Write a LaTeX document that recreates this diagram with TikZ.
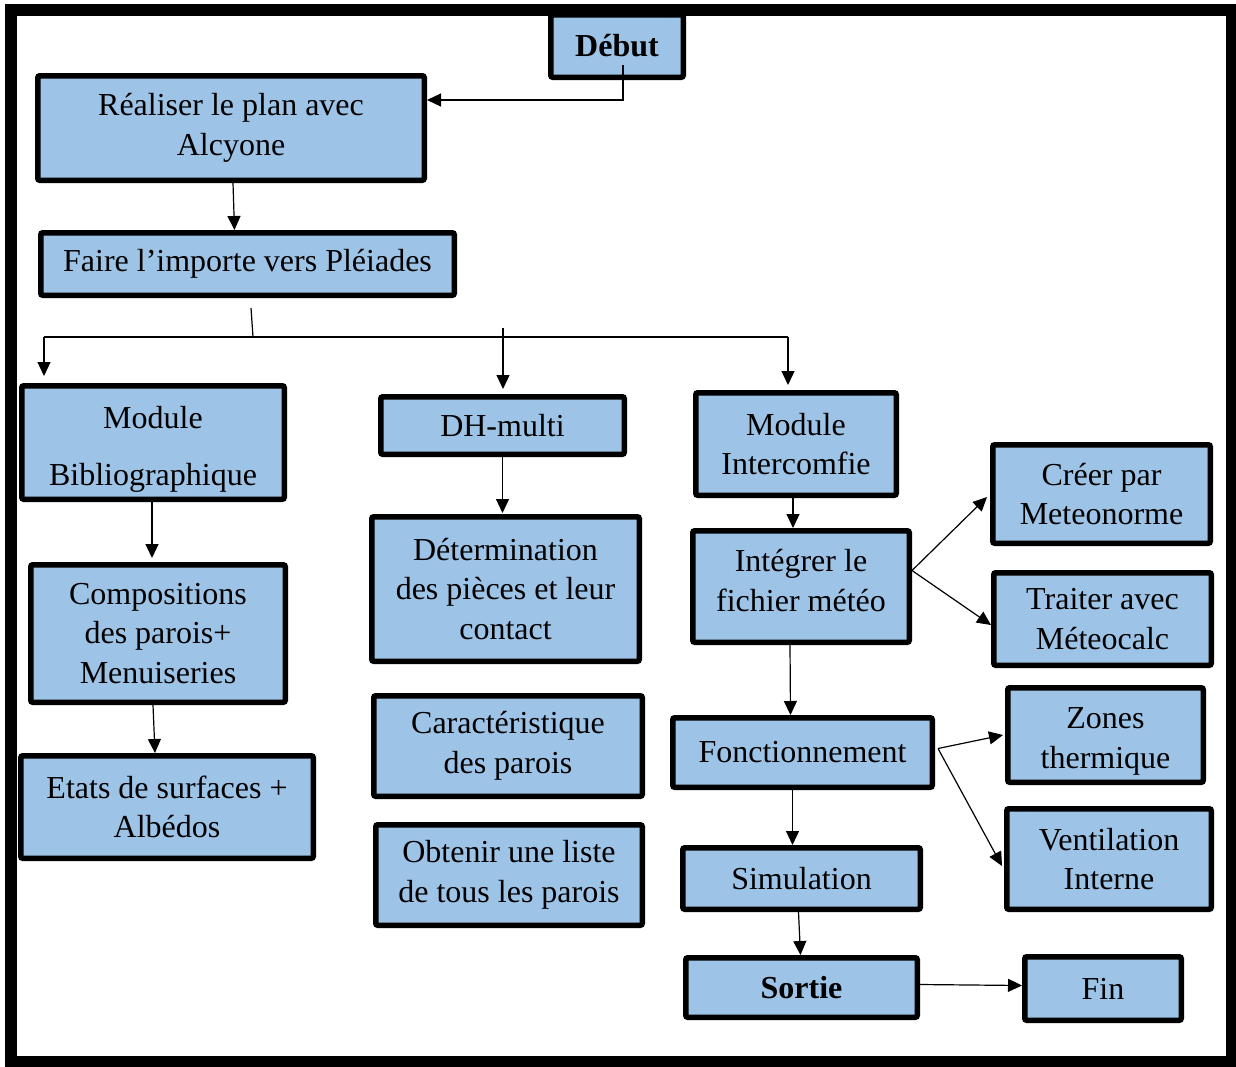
\documentclass[tikz,border=0pt]{standalone}
\usepackage{fontspec}
\setmainfont{Liberation Serif}
\usetikzlibrary{arrows.meta,calc}
\definecolor{boxblue}{HTML}{9DC3E6}
\tikzset{
  box/.style={draw=black, line width=5.5pt, fill=boxblue, rounded corners=2pt, align=center, inner sep=0pt,
    font=\fontsize{32}{39.5}\selectfont},
  arr/.style={line width=1.2pt, -{Triangle[length=14pt,width=13pt]}},
  ln/.style={line width=1.2pt}
}
\begin{document}
\begin{tikzpicture}[x=1pt,y=-1pt]
\useasboundingbox (0,0) rectangle (1236,1066);
\fill[white] (0,0) rectangle (1236,1066);
\draw[line width=12pt] (10.5,10) rectangle (1232,1062);

\node[box, minimum width=132.5pt, minimum height=62.5pt, font=\fontsize{32}{39.5}\selectfont\bfseries] (debut) at (617,46) {Début};
\node[box, minimum width=386.5pt, minimum height=104.5pt] (realiser) at (231,128) {Réaliser le plan avec\\Alcyone};
\node[box, minimum width=413.5pt, minimum height=62.5pt] (faire) at (247.5,264) {Faire l’importe vers Pléiades};
\node[box, minimum width=262.5pt, minimum height=113.5pt] (modbib) at (153,442.5) {\rule{0pt}{36pt}Module\\[17pt]Bibliographique};
\node[box, minimum width=243.5pt, minimum height=57.5pt] (dh) at (502.5,425.5) {DH-multi};
\node[box, minimum width=200.5pt, minimum height=102.5pt] (inter) at (796,444) {Module\\Intercomfie};
\node[box, minimum width=267.5pt, minimum height=144.5pt] (det) at (505.5,589) {Détermination\\des pièces et leur\\contact};
\node[box, minimum width=254.5pt, minimum height=137.5pt] (comp) at (158,633.5) {Compositions\\des parois+\\Menuiseries};
\node[box, minimum width=216.5pt, minimum height=111.5pt] (integ) at (801,586.5) {Intégrer le\\fichier météo\rule[-12pt]{0pt}{1pt}};
\node[box, minimum width=217.5pt, minimum height=98.5pt] (creer) at (1101.5,494) {Créer par\\Meteonorme};
\node[box, minimum width=217.5pt, minimum height=92.5pt] (traiter) at (1102.5,619) {Traiter avec\\Méteocalc};
\node[box, minimum width=268.5pt, minimum height=100.5pt] (carac) at (508,746) {Caractéristique\\des parois};
\node[box, minimum width=259.5pt, minimum height=69.5pt] (fonct) at (802.5,752.5) {Fonctionnement};
\node[box, minimum width=195.5pt, minimum height=94.5pt] (zones) at (1105.5,735) {\rule{0pt}{34pt}Zones\\thermique};
\node[box, minimum width=292.5pt, minimum height=102.5pt] (etats) at (167,807) {Etats de surfaces +\\Albédos};
\node[box, minimum width=266.5pt, minimum height=100.5pt] (obtenir) at (509,875) {Obtenir une liste\\de tous les parois};
\node[box, minimum width=237.5pt, minimum height=61.5pt] (simul) at (801.5,878.5) {Simulation};
\node[box, minimum width=204.5pt, minimum height=100.5pt] (vent) at (1109,859) {Ventilation\\Interne};
\node[box, minimum width=231.5pt, minimum height=59.5pt, font=\fontsize{32}{39.5}\selectfont\bfseries] (sortie) at (801.5,987.5) {Sortie};
\node[box, minimum width=156.5pt, minimum height=63.5pt] (fin) at (1103,988.5) {Fin};

% Début -> Réaliser
\draw[arr] ([xshift=6pt,yshift=15pt]debut.south) |- ([yshift=28pt]realiser.east);
% Réaliser -> Faire
\draw[arr] ([xshift=2pt]realiser.south) -- ([xshift=-13pt]faire.north);
% branching
\coordinate (bj) at (253,337);
\coordinate (bl) at (44,337);
\coordinate (br) at (788,337);
\coordinate (bm) at (503,328);
\draw[ln] ([xshift=3.5pt,yshift=-10pt]faire.south) -- (bj);
\draw[ln] (bl) -- (br);
\draw[arr] (bl) -- ($(bl |- modbib.north)+(0,-7)$);
\draw[arr] (bm) -- ($(bm |- dh.north)+(0,-5)$);
\draw[arr] (br) -- ($(br |- inter.north)+(0,-5)$);
% left column
\draw[arr] ([xshift=-1pt]modbib.south) -- ([xshift=-6pt,yshift=4pt]comp.north);
\draw[arr] ([xshift=-5pt]comp.south) -- ([xshift=-12pt]etats.north);
% middle
\draw[arr] (dh.south) -- ($(dh.south |- det.north)+(0,-1)$);
% right
\draw[arr] ([xshift=-3pt]inter.south) -- ([xshift=-8pt]integ.north);
\draw[arr] ([yshift=16pt]integ.east) -- ([xshift=-3pt,yshift=-3pt]creer.west);
\draw[arr] ([yshift=16pt]integ.east) -- ([yshift=-6pt]traiter.west);
\draw[arr] ([xshift=-11pt]integ.south) -- ([xshift=-12pt]fonct.north);
\draw[arr] ([xshift=3pt,yshift=4pt]fonct.east) -- ([xshift=-2pt]zones.west);
\draw[arr] ([xshift=3pt,yshift=4pt]fonct.east) -- ([xshift=-2pt,yshift=-7pt]vent.west);
\draw[arr] ([xshift=-10pt]fonct.south) -- ([xshift=-9pt]simul.north);
\draw[arr] ([xshift=-3pt]simul.south) -- ([xshift=-1pt]sortie.north);
\draw[arr] ([yshift=3pt]sortie.east) -- ([yshift=3pt]fin.west);
\end{tikzpicture}
\end{document}
